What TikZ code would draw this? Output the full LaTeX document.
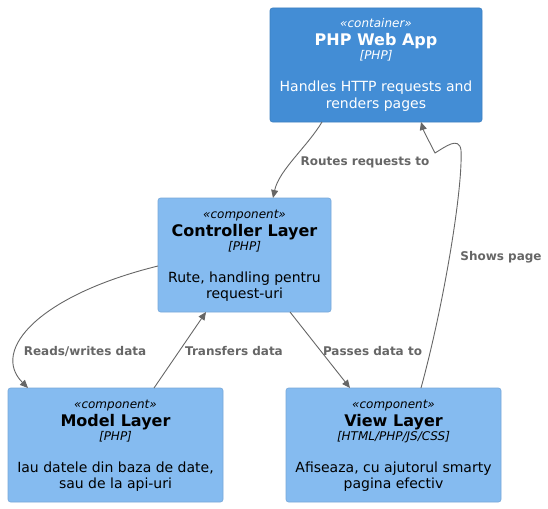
\documentclass[tikz,border=0pt]{standalone}
\usepackage{fontspec}
\setmainfont{DejaVu Sans}
\usetikzlibrary{arrows.meta}
\definecolor{contfill}{HTML}{438DD5}
\definecolor{contline}{HTML}{3C7FC0}
\definecolor{compfill}{HTML}{85BBF0}
\definecolor{compline}{HTML}{78A8D8}
\definecolor{relgray}{HTML}{666666}
\begin{document}
\begin{tikzpicture}[x=1pt,y=-1pt,
  basebox/.style={rectangle, rounded corners=2.5pt, inner sep=0pt, outer sep=0pt, line width=0.6pt, minimum height=114pt},
  contbox/.style={basebox, fill=contfill, draw=contline},
  compbox/.style={basebox, fill=compfill, draw=compline},
  stereo/.style={anchor=base, inner sep=0pt, font=\fontsize{12}{14}\selectfont\itshape},
  ttl/.style={anchor=base, inner sep=0pt, font=\fontsize{16}{19}\selectfont\bfseries},
  tech/.style={anchor=base, inner sep=0pt, font=\fontsize{12}{14}\selectfont\itshape},
  desc/.style={anchor=base, inner sep=0pt, font=\fontsize{14}{16}\selectfont},
  rel/.style={draw=relgray, line width=0.9pt, -{Triangle[length=8pt,width=7pt]}, fill=none},
  rellabel/.style={anchor=base, inner sep=0pt, text=relgray, font=\fontsize{12}{14}\selectfont\bfseries}
]
\useasboundingbox (0,0) rectangle (548,508);

% boxes
\node[contbox, minimum width=212pt] (web) at (376,65) {};
\node[compbox, minimum width=173pt] (ctrl) at (244.5,255) {};
\node[compbox, minimum width=215pt] (model) at (115.5,445) {};
\node[compbox, minimum width=215pt] (view) at (393.5,445) {};

% PHP Web App texts
\begin{scope}[every node/.append style={text=white}]
\node[stereo] (webS) at (376,28) {«container»};
\node[ttl] (webT) at (376,46) {PHP Web App};
\node[tech] (webK) at (376,60) {[PHP]};
\node[desc] (webD1) at (376,92) {Handles HTTP requests and};
\node[desc] (webD2) at (376,108) {renders pages};
\end{scope}

% Controller texts
\node[stereo] (ctrlS) at (244.5,218) {«component»};
\node[ttl] (ctrlT) at (244.5,236) {Controller Layer};
\node[tech] (ctrlK) at (244.5,250) {[PHP]};
\node[desc] (ctrlD1) at (244.5,282) {Rute, handling pentru};
\node[desc] (ctrlD2) at (244.5,298) {request-uri};

% Model texts
\node[stereo] (modelS) at (115.5,408) {«component»};
\node[ttl] (modelT) at (115.5,426) {Model Layer};
\node[tech] (modelK) at (115.5,440) {[PHP]};
\node[desc] (modelD1) at (115.5,472) {Iau datele din baza de date,};
\node[desc] (modelD2) at (115.5,488) {sau de la api-uri};

% View texts
\node[stereo] (viewS) at (393.5,408) {«component»};
\node[ttl] (viewT) at (393.5,426) {View Layer};
\node[tech] (viewK) at (393.5,440) {[HTML/PHP/JS/CSS]};
\node[desc] (viewD1) at (393.5,472) {Afiseaza, cu ajutorul smarty};
\node[desc] (viewD2) at (393.5,488) {pagina efectiv};

% relations
\draw[rel] ([xshift=-54pt]web.south) .. controls +(-15,25) and +(6,-28) .. ([xshift=28.5pt]ctrl.north);
\node[rellabel] (lRoutes) at (365,165) {Routes requests to};

\draw[rel] ([yshift=-11pt]ctrl.west) .. controls +(-118,29) and +(-38,-38) .. ([xshift=-87.5pt]model.north);
\node[rellabel] (lReads) at (85,355) {Reads/writes data};

\draw[rel] ([xshift=38.5pt]model.north) -- ([xshift=-38.5pt]ctrl.south);
\node[rellabel] (lTrans) at (234,355) {Transfers data};

\draw[rel] ([xshift=45.5pt]ctrl.south) -- ([xshift=-43.5pt]view.north);
\node[rellabel] (lPass) at (372.5,355) {Passes data to};

\coordinate (peak) at (461,150);
\coordinate (dip) at (435,153);
\draw[rel] ([xshift=27.5pt]view.north) .. controls +(22,-80) and +(2,40) .. (peak)
  .. controls +(-2,-14) and +(10,-6) .. (dip)
  .. controls +(-5,-10) and +(3,10) .. ([xshift=45pt]web.south);
\node[rellabel] (lShows) at (501,260) {Shows page};
\end{tikzpicture}
\end{document}
